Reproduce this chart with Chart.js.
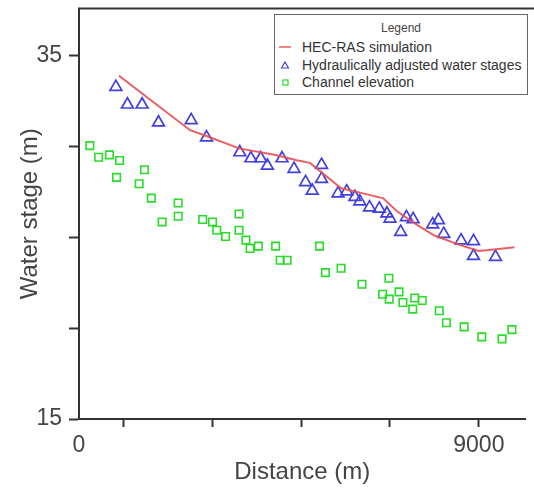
<!DOCTYPE html>
<html lang="en">
<head>
    <meta charset="UTF-8">
    <title>Water stage along the channel</title>
    <script src="https://cdn.jsdelivr.net/npm/chart.js"></script>
    <style>
        body { margin: 0; background: #fff; }
        #wrap { position: relative; width: 534px; height: 489px; }
        #legendBox {
            position: absolute; left: 274px; top: 14px; width: 254px; height: 81px;
            border: 1px solid #666; background: #fff; box-sizing: border-box;
            font-family: "Liberation Sans", Arial, sans-serif; color: #333;
        }
        #legendBox .ttl { position: absolute; left: 0; right: 0; top: 6px; text-align: center; font-size: 12px; color: #444; }
        #legendBox .item { position: absolute; left: 0; height: 18px; line-height: 18px; font-size: 14px; white-space: nowrap; }
        #legendBox .item svg { position: absolute; left: 4px; top: 3px; }
        #legendBox .item span { position: absolute; left: 27px; }
    </style>
</head>
<body>
<div id="wrap">
    <canvas id="stageChart" width="534" height="489"></canvas>
    <div id="legendBox"><div class="ttl">Legend</div></div>
</div>
<script>
    // HEC-RAS simulated profile
    const simDist = [900, 2500, 2900, 3600, 4400, 4900, 5200, 5900, 6350, 6850, 7150, 7600, 8000, 8550, 9000, 9400, 9800];
    const simStage = [33.9, 30.9, 30.55, 29.9, 29.55, 29.25, 29.1, 27.7, 27.45, 27.15, 26.45, 25.7, 25.1, 24.6, 24.25, 24.35, 24.45];

    // hydraulically adjusted water stages
    const adjDist = [830, 1090, 1420, 1790, 2525, 2870, 3620, 3870, 4090, 4240, 4570, 4840, 5100, 5250, 5460, 5460, 5830, 6025, 6210, 6320, 6540, 6760, 6930, 7000, 7240, 7370, 7520, 7960, 8090, 8210, 8600, 8880, 8880, 9375];
    const adjStage = [33.28, 32.31, 32.31, 31.32, 31.45, 30.5, 29.68, 29.35, 29.35, 28.94, 29.35, 28.77, 28.04, 27.57, 28.99, 28.22, 27.42, 27.53, 27.22, 26.98, 26.65, 26.58, 26.31, 26.03, 25.3, 26.11, 26.0, 25.71, 25.94, 25.19, 24.83, 24.79, 23.97, 23.92];

    // channel bed elevation
    const bedDist = [243, 442, 685, 912, 846, 1474, 1354, 1628, 1871, 2232, 2232, 2784, 3005, 3100, 3299, 3601, 3601, 3756, 3851, 4037, 4426, 4529, 4684, 5413, 5546, 5899, 6370, 6975, 6834, 6982, 7203, 7291, 7556, 7512, 7726, 8109, 8270, 8668, 9065, 9523, 9744];
    const bedStage = [30.05, 29.41, 29.54, 29.23, 28.3, 28.72, 27.95, 27.16, 25.85, 26.89, 26.16, 25.98, 25.85, 25.39, 25.05, 26.29, 25.39, 24.85, 24.39, 24.52, 24.52, 23.74, 23.74, 24.52, 23.06, 23.3, 22.42, 22.75, 21.87, 21.6, 22.0, 21.41, 21.66, 21.05, 21.52, 20.96, 20.3, 20.07, 19.52, 19.41, 19.92];

    const xTicks = [0, 1000, 3000, 5000, 7000, 9000];
    const xLabels = [0, 9000];
    const yTicks = [15, 20, 25, 30, 35];
    const yLabels = [15, 35];

    const toPoints = (xs, ys) => xs.map((x, i) => ({ x: x, y: ys[i] }));
    const axisFont = { family: "'Liberation Sans', Arial, sans-serif", size: 23 };
    const titleFont = { family: "'Liberation Sans', Arial, sans-serif", size: 24 };

    // top frame line of the plot box
    const frameTop = {
        id: 'frameTop',
        afterDraw(chart) {
            const { ctx, chartArea } = chart;
            ctx.save();
            ctx.strokeStyle = '#333';
            ctx.lineWidth = 2;
            ctx.beginPath();
            ctx.moveTo(chartArea.left - 1, chartArea.top);
            ctx.lineTo(chart.width, chartArea.top);
            ctx.stroke();
            ctx.restore();
        }
    };

    const chart = new Chart(document.getElementById('stageChart'), {
        type: 'scatter',
        data: {
            datasets: [
                {
                    label: 'HEC-RAS simulation',
                    data: toPoints(simDist, simStage),
                    showLine: true,
                    borderColor: 'rgba(232, 78, 82, 0.9)',
                    borderWidth: 2,
                    pointRadius: 0,
                    tension: 0
                },
                {
                    label: 'Hydraulically adjusted water stages',
                    data: toPoints(adjDist, adjStage),
                    pointStyle: 'triangle',
                    pointRadius: 6.8,
                    borderColor: 'rgb(64, 64, 224)',
                    backgroundColor: 'rgba(0,0,0,0)',
                    borderWidth: 1.7
                },
                {
                    label: 'Channel elevation',
                    data: toPoints(bedDist, bedStage),
                    pointStyle: 'rect',
                    pointRadius: 5.3,
                    borderColor: 'rgb(40, 220, 40)',
                    backgroundColor: 'rgba(0,0,0,0)',
                    borderWidth: 1.6
                }
            ]
        },
        options: {
            responsive: false,
            animation: false,
            layout: { padding: { top: 6, left: 0, right: 0, bottom: 0 } },
            plugins: { legend: { display: false }, tooltip: { enabled: false } },
            scales: {
                x: {
                    type: 'linear',
                    min: 0,
                    max: 10050,
                    afterBuildTicks: s => { s.ticks = xTicks.map(v => ({ value: v })); },
                    afterFit: s => { s.height = 70; s.paddingLeft = 0; s.paddingRight = 0; },
                    ticks: {
                        autoSkip: false,
                        maxRotation: 0,
                        padding: 5,
                        color: '#444',
                        font: axisFont,
                        callback: v => xLabels.includes(v) ? v : ''
                    },
                    grid: {
                        drawOnChartArea: false,
                        tickLength: 8,
                        tickWidth: 2,
                        tickColor: c => (c.tick && c.tick.value === 0) ? 'rgba(0,0,0,0)' : '#333'
                    },
                    border: { color: '#333', width: 2 },
                    title: { display: true, text: 'Distance (m)', color: '#444', font: titleFont, padding: { top: 2, bottom: 2 } }
                },
                y: {
                    min: 15,
                    max: 37.6,
                    afterBuildTicks: s => { s.ticks = yTicks.map(v => ({ value: v })); },
                    afterFit: s => { s.width = 79; s.paddingTop = 0; s.paddingBottom = 0; },
                    ticks: {
                        autoSkip: false,
                        padding: 7,
                        color: '#444',
                        font: axisFont,
                        callback: v => yLabels.includes(v) ? v : ''
                    },
                    grid: { drawOnChartArea: false, tickLength: 10, tickWidth: 2, tickColor: '#333' },
                    border: { color: '#333', width: 2 },
                    title: { display: true, text: 'Water stage (m)', color: '#444', font: titleFont, padding: { top: 16, bottom: 2 } }
                }
            }
        },
        plugins: [frameTop]
    });

    // legend box inside the plot, built from the datasets
    const box = document.getElementById('legendBox');
    const rows = [33, 50.5, 67.5];
    chart.data.datasets.forEach((ds, i) => {
        const item = document.createElement('div');
        item.className = 'item';
        item.style.top = (rows[i] - 9 - 1) + 'px';
        let mark;
        if (i === 0) {
            mark = '<line x1="0" y1="6" x2="12" y2="6" stroke="' + ds.borderColor + '" stroke-width="1.5"/>';
        } else if (i === 1) {
            mark = '<polygon points="6,3 9.5,9 2.5,9" fill="none" stroke="' + ds.borderColor + '" stroke-width="1.2"/>';
        } else {
            mark = '<rect x="4" y="4" width="5" height="5" fill="none" stroke="' + ds.borderColor + '" stroke-width="1.2"/>';
        }
        item.innerHTML = '<svg width="14" height="12">' + mark + '</svg><span>' + ds.label + '</span>';
        box.appendChild(item);
    });
</script>
</body>
</html>
